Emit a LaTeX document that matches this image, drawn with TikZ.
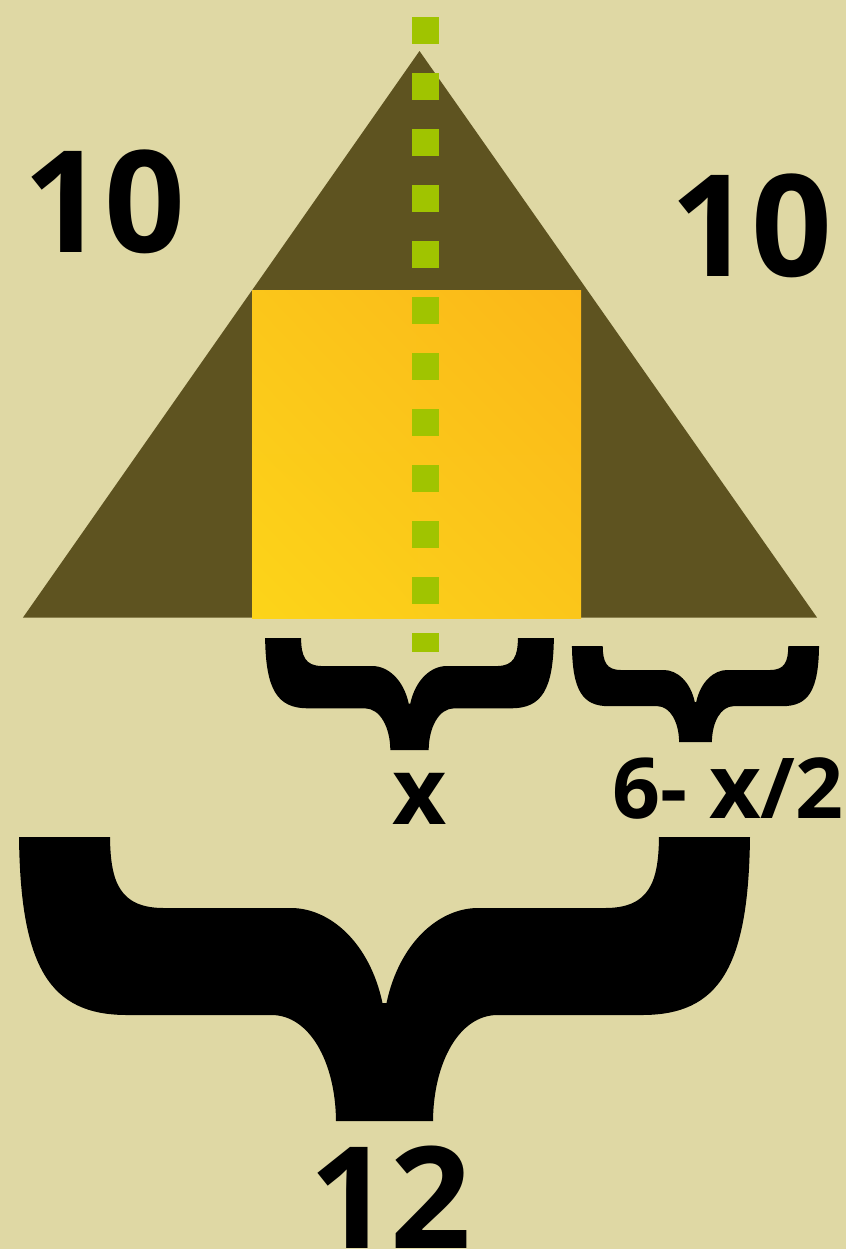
\documentclass[tikz,border=0pt]{standalone}
\usepackage{tikz}
\usepackage{xcolor}
\usepackage{fontspec}
\setmainfont{Open Sans}
\definecolor{vizBackground}{HTML}{DFD8A4}
\definecolor{vizTriangle}{HTML}{5E5320}
\definecolor{vizRectLow}{HTML}{FCD419}
\definecolor{vizRectMid}{HTML}{FBC61A}
\definecolor{vizRectHigh}{HTML}{FBB719}
\definecolor{vizAxis}{HTML}{A0C400}
\usetikzlibrary{shadings}
\tikzset{
  biglabel/.style={font=\bfseries\fontsize{40.3}{48}\selectfont, inner sep=0pt},
  smalllabel/.style={font=\bfseries\fontsize{23.9}{29}\selectfont, inner sep=0pt},
  curlybrace/.pic={
    \fill[black] (-3.655cm,0cm) -- (-2.745cm,0cm)
      .. controls (-2.74cm,-0.45cm) and (-2.65cm,-0.71cm) .. (-2.205cm,-0.71cm)
      -- (-0.935cm,-0.71cm)
      .. controls (-0.55cm,-0.71cm) and (-0.15cm,-1.05cm) .. (-0.02cm,-1.66cm)
      -- (0.02cm,-1.66cm)
      .. controls (0.15cm,-1.05cm) and (0.55cm,-0.71cm) .. (0.935cm,-0.71cm)
      -- (2.205cm,-0.71cm)
      .. controls (2.65cm,-0.71cm) and (2.74cm,-0.45cm) .. (2.745cm,0cm)
      -- (3.655cm,0cm)
      .. controls (3.64cm,-1.30cm) and (3.35cm,-1.78cm) .. (2.575cm,-1.78cm)
      -- (1.13cm,-1.78cm)
      .. controls (0.75cm,-1.78cm) and (0.49cm,-2.25cm) .. (0.485cm,-2.84cm)
      -- (-0.485cm,-2.84cm)
      .. controls (-0.49cm,-2.25cm) and (-0.75cm,-1.78cm) .. (-1.13cm,-1.78cm)
      -- (-2.575cm,-1.78cm)
      .. controls (-3.35cm,-1.78cm) and (-3.64cm,-1.30cm) .. (-3.655cm,0cm)
      -- cycle;
  }
}

\begin{document}
\begin{tikzpicture}
  \filldraw[fill=vizBackground, draw=none] (0cm,0cm) rectangle (8.46cm,-12.49cm);
  \useasboundingbox (0cm,0cm) rectangle (8.46cm,-12.49cm);
  % triangle and the square inside it
  \filldraw[fill=vizTriangle, draw=none] (0.23cm,-6.175cm) -- (8.17cm,-6.175cm) -- (4.195cm,-0.51cm) -- cycle;
  \shade[lower left=vizRectLow, upper right=vizRectHigh, upper left=vizRectMid, lower right=vizRectMid]
    (2.52cm,-6.18cm) rectangle (5.81cm,-2.90cm);
  \draw[vizAxis, line width=0.27cm, dash pattern=on 0.27cm off 0.29cm] (4.255cm,-0.17cm) -- (4.255cm,-6.52cm);
  % braces
  \pic[scale=0.395] at (4.095cm,-6.38cm) {curlybrace};
  \pic[scale=0.338] at (6.955cm,-6.46cm) {curlybrace};
  \pic at (3.845cm,-8.37cm) {curlybrace};
  % labels
  \node[biglabel] (sideleft) at (1.04cm,-2.015cm) {10};
  \node[biglabel] (sideright) at (7.515cm,-2.26cm) {10};
  \node[inner sep=0pt, font=\bfseries\fontsize{26.7}{32}\selectfont] (widthx) at (4.20cm,-7.99cm) {x};
  \node[smalllabel, anchor=base] (restwidth) at (7.28cm,-8.18cm) {6- {\fontsize{25.5}{30}\selectfont x}/2};
  \node[biglabel] (basewidth) at (3.905cm,-11.975cm) {12};
\end{tikzpicture}
\end{document}
